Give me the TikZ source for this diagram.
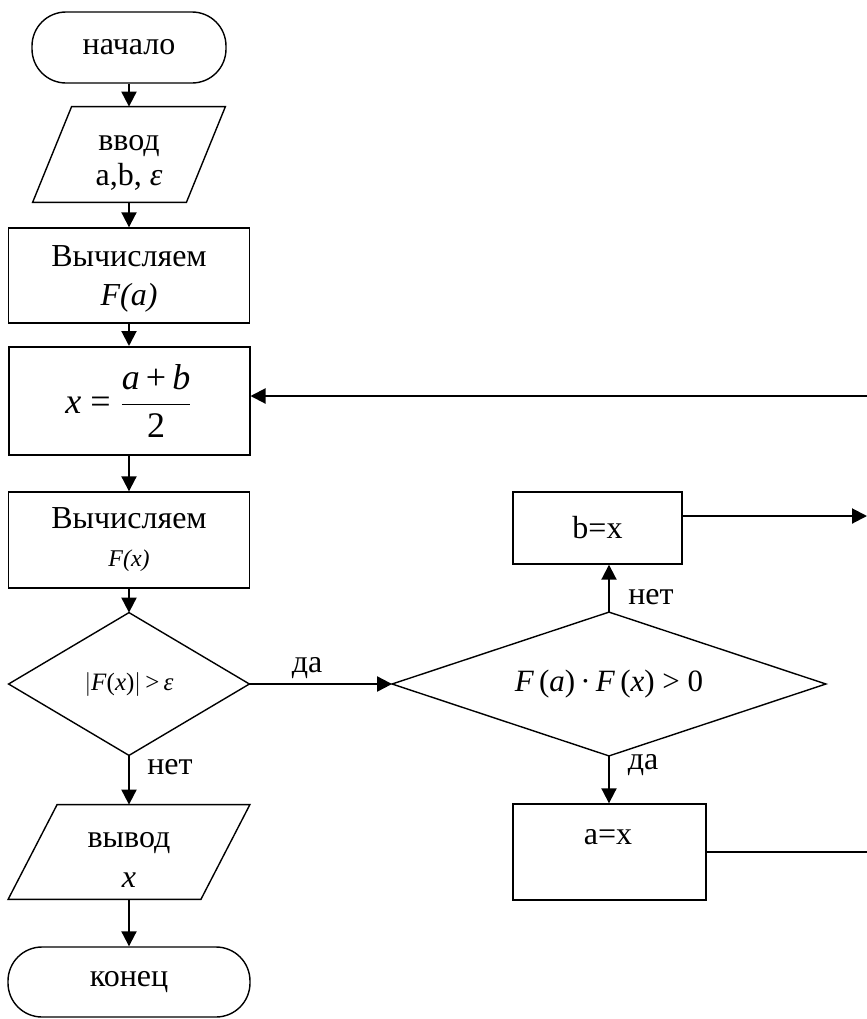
\documentclass[tikz,border=0pt]{standalone}
\usepackage{amsmath}
\usepackage{fontspec}
\setmainfont{Liberation Serif}
\usetikzlibrary{arrows.meta,calc}

\begin{document}
\begin{tikzpicture}[x=0.5pt,y=-0.5pt,
  every node/.style={font=\fontsize{16}{19}\selectfont},
  box/.style={draw,line width=0.7pt,inner sep=0pt,align=center},
  term/.style={box,rounded corners=17pt},
  io/.style={inner sep=0pt,align=center},
  conn/.style={line width=1pt},
  arr/.style={conn,-{Triangle[length=7.5pt,width=7.5pt]}},
  lbl/.style={inner sep=0pt,align=center},
  shape line/.style={line width=0.7pt}]

\useasboundingbox (0,0) rectangle (867,1019);

% main column
\node[term,minimum width=97pt,minimum height=35.5pt] (start) at (129,47.5) {начало};
\node[io,minimum width=76.5pt,minimum height=47.5pt] (inp) at (129,154.5) {};
\node[lbl] (inpt) at (129,163) {ввод\\[-1.5pt]a,b, \textit{ε}};
\draw[shape line] ($(inp.north west)+(19.5,0)$) -- ($(inp.north east)+(19.5,0)$)
  -- ($(inp.south east)-(19.5,0)$) -- ($(inp.south west)-(19.5,0)$) -- cycle;
\node[box,minimum width=120.5pt,minimum height=47.5pt] (fa) at (129,275.5) {};
\node[lbl] (fat) at (129,279) {Вычисляем\\[0.5pt]\textit{F(a)}};
\node[box,line width=1pt,minimum width=120.5pt,minimum height=54pt] (xm) at (129,401)
  {\fontsize{18}{20}\selectfont\textit{x} = $\dfrac{\mbox{\fontsize{18}{20}\selectfont\textit{a}\,+\,\textit{b}}}{\mbox{\fontsize{18}{20}\selectfont 2}}$};
\node[box,minimum width=120.5pt,minimum height=48pt] (fx) at (129,540)
  {Вычисляем\\{\fontsize{12}{12}\selectfont\textit{F(x)}}};

% first decision
\node[io,minimum width=120pt,minimum height=71pt] (d1) at (129,684)
  {\fontsize{12.5}{14}\selectfont$\left|\mbox{\fontsize{12.5}{14}\selectfont\textit{F}(\textit{x})}\right|$\,>\,\textit{ε}};
\draw[shape line] (d1.north) -- (d1.east) -- (d1.south) -- (d1.west) -- cycle;

\node[io,minimum width=96pt,minimum height=47pt] (out) at (129,852) {};
\node[lbl] (outt) at (129,860) {вывод\\[1pt]\textit{x}};
\draw[shape line] ($(out.north west)+(24.5,0)$) -- ($(out.north east)+(24.5,0)$)
  -- ($(out.south east)-(24.5,0)$) -- ($(out.south west)-(24.5,0)$) -- cycle;
\node[term,minimum width=121pt,minimum height=35pt] (stop) at (129,982) {конец};

% second decision and its branches
\node[io,minimum width=216.5pt,minimum height=71.5pt] (d2) at (609,684)
  {\raisebox{3pt}{\fontsize{15.5}{17}\selectfont\textit{F}\,(\textit{a})\,·\,\textit{F}\,(\textit{x}) > 0}};
\draw[shape line] (d2.north) -- (d2.east) -- (d2.south) -- (d2.west) -- cycle;
\node[box,minimum width=84.5pt,minimum height=36pt] (bx) at (597.5,528) {b=x};
\node[box,minimum width=96.5pt,minimum height=48pt] (ax) at (609.5,852) {};
\node[lbl] (axt) at (608,837) {a=x};

% connectors
\draw[arr] (start) -- (inp);
\draw[arr] (inp) -- (fa);
\draw[arr] (fa) -- (xm);
\draw[arr] (xm) -- (fx);
\draw[arr] (fx) -- (d1);
\draw[arr] (d1) -- (out);
\draw[arr] (out) -- (stop);
\node[lbl] (l1) at (170,767) {нет};

\draw[arr] (d1.east) -- (d2.west);
\node[lbl] (l2) at (307,668) {да};

\draw[arr] (d2.north) -- (d2.north |- bx.south);
\node[lbl] (l3) at (651,597) {нет};
\draw[arr] (d2.south) -- (d2.south |- ax.north);
\node[lbl] (l4) at (643,765) {да};

\coordinate (bxend) at (867,516);
\draw[arr] (bx.east |- bxend) -- (bxend);
\coordinate (axend) at (867,852);
\draw[conn] (ax.east) -- (axend);
\coordinate (back) at (867,396);
\draw[arr] (back) -- (back -| xm.east);
\end{tikzpicture}
\end{document}
